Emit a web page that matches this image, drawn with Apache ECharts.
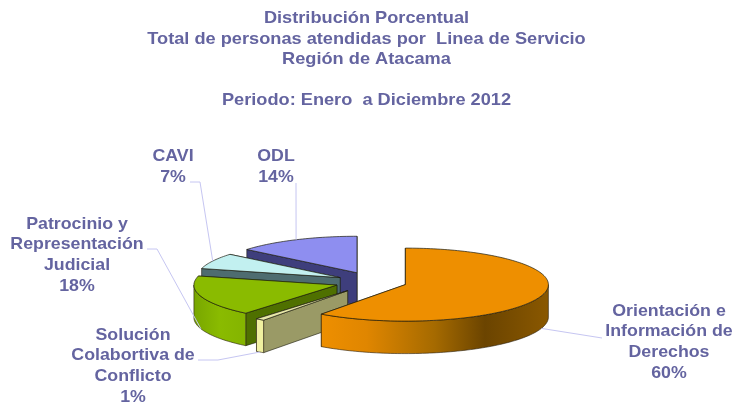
<!DOCTYPE html>
<html>
<head>
<meta charset="utf-8">
<style>html,body{margin:0;padding:0;background:#fff}#c{width:734px;height:403px}</style>
<script src="https://cdn.jsdelivr.net/npm/echarts@6/dist/echarts.min.js"></script>
</head>
<body>
<div id="c"></div>
<script>
// Data: listed counter-clockwise from 12 o'clock, which is also back-to-front paint order
const labels = ['ODL\n14%', 'CAVI\n7%', 'Patrocinio y\nRepresentación\nJudicial\n18%', 'Solución\nColabortiva de\nConflicto\n1%', 'Orientación e\nInformación de\nDerechos\n60%'];
const values = [14, 7, 18, 1, 60];
const titleLines = ['Distribución Porcentual', 'Total de personas atendidas por  Linea de Servicio', 'Región de Atacama', '', 'Periodo: Enero  a Diciembre 2012'];

// Styling and layout
const topColors  = ['#8E8EF0', '#C2F0F0', '#8ABB00', '#E8E8A8', '#EE8F00'];
const wallColors = ['#3E3E7C', '#4E6C70', '#4F7000', '#9A9A66', '#7A4E00'];
const arcFills = [
  '#3E3E7C', '#4E6C70',
  [[0, '#78A600'], [0.5, '#8ABB00'], [1, '#84B400']],
  '#F0F0A0',
  [[0, '#EE8F00'], [0.2, '#E08600'], [0.5, '#A56A00'], [0.72, '#6B4400'], [1, '#8A5800']]
];
const explode = [40, 38, 39, 43, 33];
const labelPos = [[276, 167], [173, 167], [77, 255], [133, 366], [669, 342]];
const elbows = [[[296, 183]], [[200, 182], [190, 182]], [[157, 249], [147, 249]], [[218, 360], [198, 360]], [[602, 338]]];
const leaderOnWall = [false, false, true, true, true];
const cx = 374, cy = 282, rx = 143, ry = 36.5, depth = 32.5;
const TXT = '#6464A0', FONT = 'bold 17px "Liberation Sans", Arial, sans-serif';
const TITLE_STRETCH = 1.07, LABEL_STRETCH = 1.045;

const total = values.reduce((a, b) => a + b, 0);
let acc = 0;
const spans = values.map(v => { const s = acc; acc += v; return [s / total * 2 * Math.PI, acc / total * 2 * Math.PI]; });

function renderSlice(params, api) {
  const i = params.dataIndex;
  const [a0, a1] = spans[i];
  const mid = (a0 + a1) / 2;
  const ax = cx - Math.sin(mid) * explode[i];
  const ay = cy - Math.cos(mid) * explode[i] * ry / rx;
  const pt = (a, d) => [ax - Math.sin(a) * rx, ay - Math.cos(a) * ry + (d || 0)];
  const sample = (from, to) => {
    const n = Math.max(4, Math.ceil((to - from) * 40)), out = [];
    for (let k = 0; k <= n; k++) out.push(pt(from + (to - from) * k / n));
    return out;
  };
  const arc = sample(a0, a1);
  const apex = [ax, ay], apexLow = [ax, ay + depth];
  const wall = (a) => ({
    type: 'polygon',
    shape: { points: [apex, pt(a), pt(a, depth), apexLow] },
    style: { fill: wallColors[i], stroke: '#1c1c10', lineWidth: 0.6 }
  });
  const children = [wall(a0), wall(a1)];
  // outer rim: only the part facing the viewer (front half of the ellipse)
  const f0 = Math.max(a0, Math.PI / 2), f1 = Math.min(a1, 3 * Math.PI / 2);
  if (f1 > f0) {
    const front = sample(f0, f1);
    const low = front.map(p => [p[0], p[1] + depth]).reverse();
    const af = arcFills[i];
    const fill = Array.isArray(af)
      ? new echarts.graphic.LinearGradient(0, 0, 1, 0, af.map(s => ({ offset: s[0], color: s[1] })))
      : af;
    children.push({ type: 'polygon', shape: { points: front.concat(low) }, style: { fill, stroke: '#2a2010', lineWidth: 0.6 } });
  }
  children.push({ type: 'polygon', shape: { points: [apex].concat(arc) }, style: { fill: topColors[i], stroke: '#1c1c10', lineWidth: 0.7 } });
  const start = leaderOnWall[i] ? pt(mid, depth) : pt(mid);
  children.push({ type: 'polyline', shape: { points: [start].concat(elbows[i]) }, style: { fill: null, stroke: '#C6C6F2', lineWidth: 1 } });
  children.push({ type: 'text', x: labelPos[i][0], y: labelPos[i][1], scaleX: LABEL_STRETCH,
    style: { text: labels[i], fill: TXT, font: FONT, align: 'center', verticalAlign: 'middle', lineHeight: 20.6 } });
  return { type: 'group', children };
}

const chart = echarts.init(document.getElementById('c'), null, { renderer: 'canvas' });
chart.setOption({
  animation: false,
  backgroundColor: '#fff',
  graphic: [{ type: 'text', x: 366.5, y: 59.5, scaleX: TITLE_STRETCH,
    style: { text: titleLines.join('\n'), fill: TXT, font: FONT, align: 'center', verticalAlign: 'middle', lineHeight: 20.5 } }],
  series: [{ type: 'custom', coordinateSystem: 'none', silent: true, renderItem: renderSlice, data: values.map(v => [v]) }]
});
</script>
</body>
</html>
